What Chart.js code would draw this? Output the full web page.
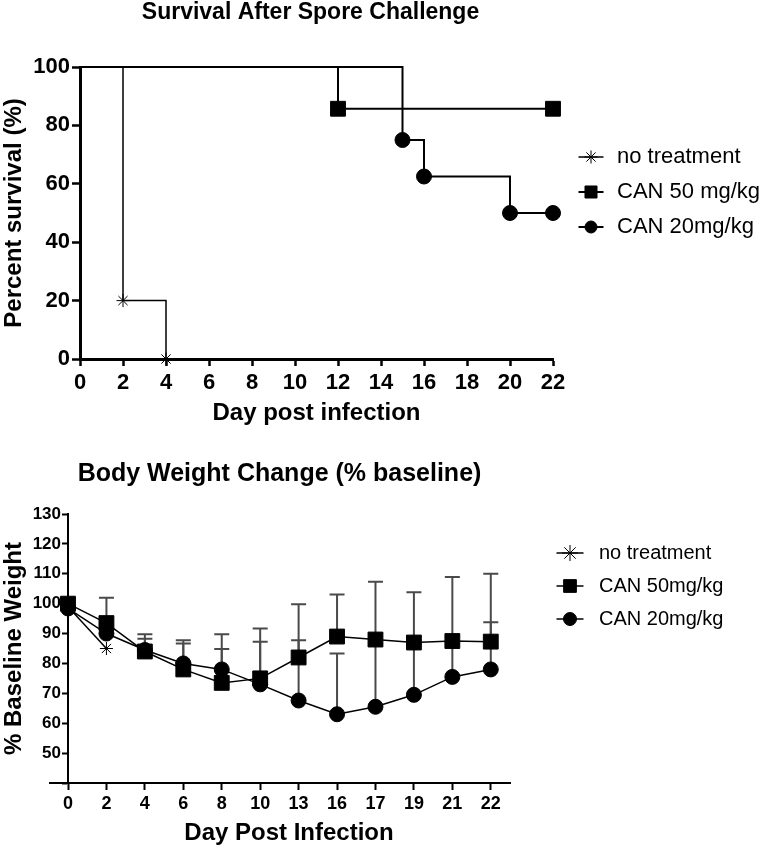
<!DOCTYPE html>
<html>
<head>
<meta charset="utf-8">
<script src="https://cdn.jsdelivr.net/npm/chart.js@4.4.1/dist/chart.umd.min.js"></script>
<style>
  body { margin: 0; background: #fff; }
  canvas { display: block; }
</style>
</head>
<body>
<canvas id="survivalChart" width="767" height="440"></canvas>
<canvas id="weightChart" width="767" height="409"></canvas>
<script>
// --- survival after spore challenge (Kaplan-Meier steps) ---
const noTxDays = [0, 2, 4];
const noTxSurvival = [100, 20, 0];
const can50Days = [0, 12, 22];
const can50Survival = [100, 85.7, 85.7];
const can20Days = [0, 15, 16, 20, 22];
const can20Survival = [100, 75, 62.5, 50, 50];

// --- body weight change (% baseline), upper SD bars ---
const weightDays = ['0', '2', '4', '6', '8', '10', '13', '16', '17', '19', '21', '22'];
const noTxWeight = [99, 85];
const can50Weight = [100, 93.5, 84, 78, 73.5, 75, 82, 89, 88, 87, 87.5, 87.3];
const can50Sd = [0, 8.5, 5.8, 9.8, 16.3, 16.7, 17.8, 14.1, 19.3, 16.8, 21.4, 22.7];
const can20Weight = [98.4, 90, 84.5, 80, 78, 73, 67.6, 63, 65.5, 69.5, 75.5, 78];
const can20Sd = [0, 3, 3.8, 6.7, 6.8, 14.3, 20.2, 20.3, 21, 16.5, 11.5, 15.8];

Chart.defaults.font.family = "'Liberation Sans', Arial, sans-serif";
Chart.defaults.color = '#000';

const pts = (xs, ys) => ys.map((y, i) => ({ x: xs[i], y: y }));
const idxPts = ys => ys.map((y, i) => ({ x: i, y: y }));

// title centred over the plot area
const chartTitle = {
    id: 'chartTitle',
    afterDraw(chart, args, o) {
        const { ctx, chartArea: a } = chart;
        ctx.save();
        ctx.font = o.font;
        ctx.fillStyle = '#000';
        ctx.textAlign = 'center';
        ctx.textBaseline = 'middle';
        ctx.fillText(o.text, (a.left + a.right) / 2 + o.shift, o.y);
        ctx.restore();
    }
};

// legend with line + marker, like the Prism one
const sideLegend = {
    id: 'sideLegend',
    afterDraw(chart, args, o) {
        const ctx = chart.ctx;
        ctx.save();
        chart.data.datasets.forEach((ds, i) => {
            const y = o.top + i * o.step;
            ctx.strokeStyle = '#000';
            ctx.fillStyle = '#000';
            ctx.lineWidth = ds.borderWidth;
            ctx.beginPath();
            ctx.moveTo(o.x - o.half, y);
            ctx.lineTo(o.x + o.half, y);
            ctx.stroke();
            ctx.lineWidth = 1;
            Chart.helpers.drawPoint(ctx, { pointStyle: ds.pointStyle, radius: o.radius[i], borderWidth: 1, rotation: 0 }, o.x, y);
            ctx.font = o.font;
            ctx.textAlign = 'left';
            ctx.textBaseline = 'middle';
            ctx.fillText(ds.label, o.textX, y);
        });
        ctx.restore();
    }
};

// one-sided (upper) error bars, drawn under the markers
const errorBars = {
    id: 'errorBars',
    beforeDatasetsDraw(chart, args, o) {
        const { ctx, scales: { x, y } } = chart;
        ctx.save();
        ctx.strokeStyle = o.color;
        ctx.lineWidth = o.width;
        chart.data.datasets.forEach(ds => {
            if (!ds.sd) return;
            ds.data.forEach((p, i) => {
                const e = ds.sd[i];
                if (!e) return;
                const px = x.getPixelForValue(p.x);
                const top = y.getPixelForValue(p.y + e);
                ctx.beginPath();
                ctx.moveTo(px, y.getPixelForValue(p.y));
                ctx.lineTo(px, top);
                ctx.moveTo(px - o.cap, top);
                ctx.lineTo(px + o.cap, top);
                ctx.stroke();
            });
        });
        ctx.restore();
    }
};

// x axis line runs a little left of the y axis
const axisStub = {
    id: 'axisStub',
    afterDraw(chart, args, o) {
        const { ctx, chartArea: a } = chart;
        ctx.save();
        ctx.strokeStyle = '#000';
        ctx.lineWidth = o.width;
        ctx.beginPath();
        ctx.moveTo(a.left - o.length, a.bottom);
        ctx.lineTo(a.left, a.bottom);
        ctx.stroke();
        ctx.restore();
    }
};

const marker = { pointBackgroundColor: '#000', pointBorderColor: '#000', pointBorderWidth: 1, borderColor: '#000', backgroundColor: '#000', clip: false };

// 1. Survival chart
new Chart(document.getElementById('survivalChart'), {
    type: 'line',
    data: {
        datasets: [
            { ...marker, label: 'no treatment', data: pts(noTxDays, noTxSurvival), stepped: 'before', borderWidth: 1.5, pointStyle: 'star', pointRadius: [0, 6.5, 6.5] },
            { ...marker, label: 'CAN 50 mg/kg', data: pts(can50Days, can50Survival), stepped: 'before', borderWidth: 2, pointStyle: 'rect', pointRadius: [0, 10.5, 10.5] },
            { ...marker, label: 'CAN 20mg/kg', data: pts(can20Days, can20Survival), stepped: 'before', borderWidth: 2, pointStyle: 'circle', pointRadius: [0, 7.5, 7.5, 7.5, 7.5] }
        ]
    },
    options: {
        responsive: false,
        animation: false,
        layout: { padding: { top: 67, right: 214, bottom: 0, left: 0 } },
        plugins: {
            legend: { display: false },
            tooltip: { enabled: false },
            chartTitle: { text: 'Survival After Spore Challenge', font: "bold 23px 'Liberation Sans', Arial, sans-serif", y: 13, shift: -6 },
            sideLegend: { x: 591, half: 12.5, textX: 617, top: 157, step: 35, radius: [6.5, 8.5, 6], font: "22px 'Liberation Sans', Arial, sans-serif" }
        },
        scales: {
            x: {
                type: 'linear', min: 0, max: 22,
                ticks: { stepSize: 2, padding: 4, maxRotation: 0, font: { size: 22, weight: 'bold' } },
                grid: { drawOnChartArea: false, tickLength: 7, tickWidth: 2.5, tickColor: '#000' },
                border: { color: '#000', width: 3 },
                title: { display: true, text: 'Day post infection', font: { size: 24, weight: 'bold' }, padding: { top: 0, bottom: 12 } },
                afterFit: s => { s.height = 81; }
            },
            y: {
                min: 0, max: 100,
                ticks: { stepSize: 20, padding: 2, font: { size: 22, weight: 'bold' } },
                grid: { drawOnChartArea: false, tickLength: 8, tickWidth: 2.5, tickColor: '#000' },
                border: { color: '#000', width: 3 },
                title: { display: true, text: 'Percent survival (%)', font: { size: 24, weight: 'bold' }, padding: 0 },
                afterFit: s => { s.width = 80; }
            }
        }
    },
    plugins: [chartTitle, sideLegend]
});

// 2. Body weight chart
new Chart(document.getElementById('weightChart'), {
    type: 'line',
    data: {
        datasets: [
            { ...marker, label: 'no treatment', data: idxPts(noTxWeight), borderWidth: 1.5, pointStyle: 'star', pointRadius: 6.5 },
            { ...marker, label: 'CAN 50mg/kg', data: idxPts(can50Weight), sd: can50Sd, borderWidth: 1.5, pointStyle: 'rect', pointRadius: 10.5 },
            { ...marker, label: 'CAN 20mg/kg', data: idxPts(can20Weight), sd: can20Sd, borderWidth: 1.5, pointStyle: 'circle', pointRadius: 7.5 }
        ]
    },
    options: {
        responsive: false,
        animation: false,
        layout: { padding: { top: 74, right: 257, bottom: 0, left: 0 } },
        plugins: {
            legend: { display: false },
            tooltip: { enabled: false },
            chartTitle: { text: 'Body Weight Change (% baseline)', font: "bold 25px 'Liberation Sans', Arial, sans-serif", y: 34, shift: -9.5 },
            sideLegend: { x: 570, half: 13.5, textX: 599, top: 113, step: 33, radius: [8, 9, 6.5], font: "20px 'Liberation Sans', Arial, sans-serif" },
            errorBars: { color: '#4a4a4a', width: 2, cap: 7.5 },
            axisStub: { width: 2, length: 19 }
        },
        scales: {
            x: {
                type: 'linear', min: 0, max: 11.5,
                afterBuildTicks: s => { s.ticks = weightDays.map((d, i) => ({ value: i })); },
                ticks: { autoSkip: false, maxRotation: 0, padding: 3, font: { size: 18, weight: 'bold' }, callback: v => weightDays[v] },
                grid: { drawOnChartArea: false, tickLength: 7, tickWidth: 2, tickColor: '#000' },
                border: { color: '#000', width: 2 },
                title: { display: true, text: 'Day Post Infection', font: { size: 24, weight: 'bold' }, padding: { top: 0, bottom: 1 } },
                afterFit: s => { s.height = 66; }
            },
            y: {
                min: 40, max: 130,
                ticks: { stepSize: 10, padding: 1, font: { size: 17, weight: 'bold' }, callback: v => v === 40 ? '' : v },
                grid: { drawOnChartArea: false, tickLength: 6, tickWidth: 2, tickColor: '#000' },
                border: { color: '#000', width: 2 },
                title: { display: true, text: '% Baseline Weight', font: { size: 24, weight: 'bold' }, padding: 0 },
                afterFit: s => { s.width = 68; }
            }
        }
    },
    plugins: [errorBars, axisStub, chartTitle, sideLegend]
});
</script>
</body>
</html>
